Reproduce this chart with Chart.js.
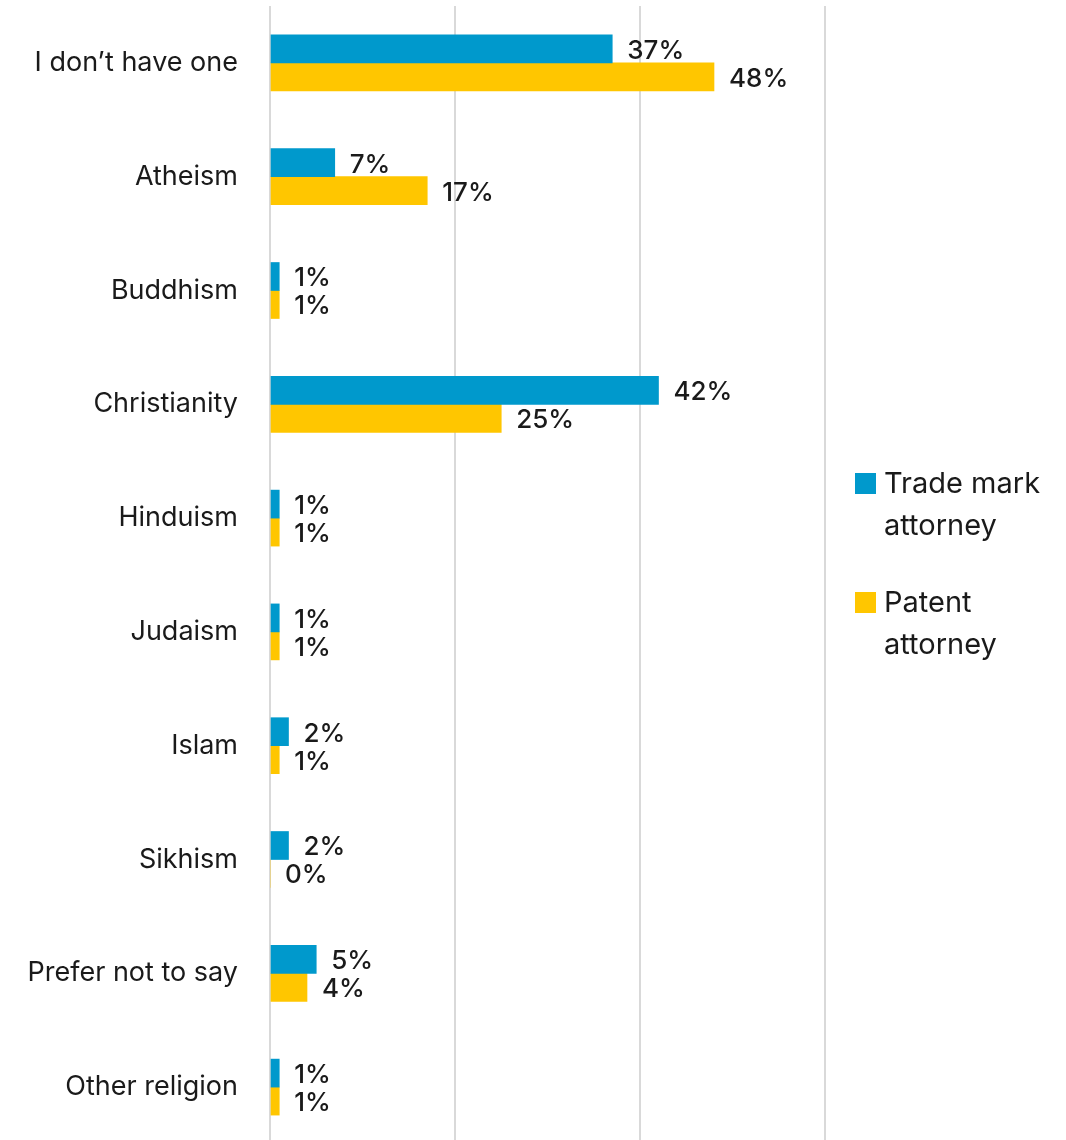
<!DOCTYPE html>
<html>
<head>
<meta charset="utf-8">
<script src="https://cdn.jsdelivr.net/npm/chart.js@4.4.1/dist/chart.umd.min.js"></script>
<style>
  html, body { margin: 0; padding: 0; background: #fff; overflow: hidden; }
  #wrap { position: relative; width: 1066px; height: 1146px; }
  .legend-item { position: absolute; left: 855px; font-family: "Inter", sans-serif; font-size: 29px; line-height: 42px; color: #1a1a1a; }
  .legend-item .swatch { position: absolute; left: 0; top: 11px; width: 21px; height: 21px; }
  .legend-item .text { margin-left: 29px; white-space: nowrap; }
</style>
</head>
<body>
<div id="wrap">
  <canvas id="religionChart"></canvas>
  <div class="legend-item" style="top: 462px;">
    <span class="swatch" style="background:#0099cc"></span>
    <div class="text">Trade mark<br>attorney</div>
  </div>
  <div class="legend-item" style="top: 581px;">
    <span class="swatch" style="background:#ffc600"></span>
    <div class="text">Patent<br>attorney</div>
  </div>
</div>
<script>
const categories = [
    "I don\u2019t have one", "Atheism", "Buddhism", "Christianity", "Hinduism",
    "Judaism", "Islam", "Sikhism", "Prefer not to say", "Other religion",
];
const tradeMark = [37, 7, 1, 42, 1, 1, 2, 2, 5, 1];
const patent = [48, 17, 1, 25, 1, 1, 1, 0, 4, 1];
const xTicks = [0, 20, 40, 60];

const FONT = "Inter, sans-serif";
const TEXT_COLOR = "#1a1a1a";

// value labels drawn just past the end of each bar
const barLabels = {
    id: "barLabels",
    afterDatasetsDraw(chart) {
        const ctx = chart.ctx;
        ctx.save();
        ctx.font = "500 26px " + FONT;
        ctx.fillStyle = TEXT_COLOR;
        ctx.textAlign = "left";
        ctx.textBaseline = "middle";
        chart.data.datasets.forEach((ds, i) => {
            chart.getDatasetMeta(i).data.forEach((bar, j) => {
                ctx.fillText(ds.data[j] + "%", bar.x + 15, bar.y + 2);
            });
        });
        ctx.restore();
    },
};

const ctx = document.getElementById("religionChart").getContext("2d");
new Chart(ctx, {
    type: "bar",
    data: {
        labels: categories,
        datasets: [
            { label: "Trade mark attorney", data: tradeMark, backgroundColor: "#0099cc", barThickness: 28 },
            { label: "Patent attorney", data: patent, backgroundColor: "#ffc600", barThickness: 28 },
        ],
    },
    options: {
        indexAxis: "y",
        responsive: true,
        maintainAspectRatio: false,
        animation: false,
        layout: { padding: { top: 6, right: 241, bottom: 2, left: 0 } },
        plugins: { legend: { display: false }, tooltip: { enabled: false } },
        scales: {
            x: {
                min: xTicks[0],
                max: xTicks[xTicks.length - 1],
                afterBuildTicks: (scale) => { scale.ticks = xTicks.map(v => ({ value: v })); },
                ticks: { display: false },
                grid: { color: "#d9d9d9", lineWidth: 2, drawTicks: false },
                border: { display: false },
            },
            y: {
                grid: { display: false, drawTicks: false },
                border: { display: false },
                ticks: { color: TEXT_COLOR, font: { family: FONT, size: 27 }, padding: 32 },
                afterFit: (scale) => {
                    scale.width = 270;
                    // labels sit inside their categories, no extra room above or below
                    scale.paddingTop = 0;
                    scale.paddingBottom = 0;
                },
            },
        },
    },
    plugins: [barLabels],
});
</script>
</body>
</html>
